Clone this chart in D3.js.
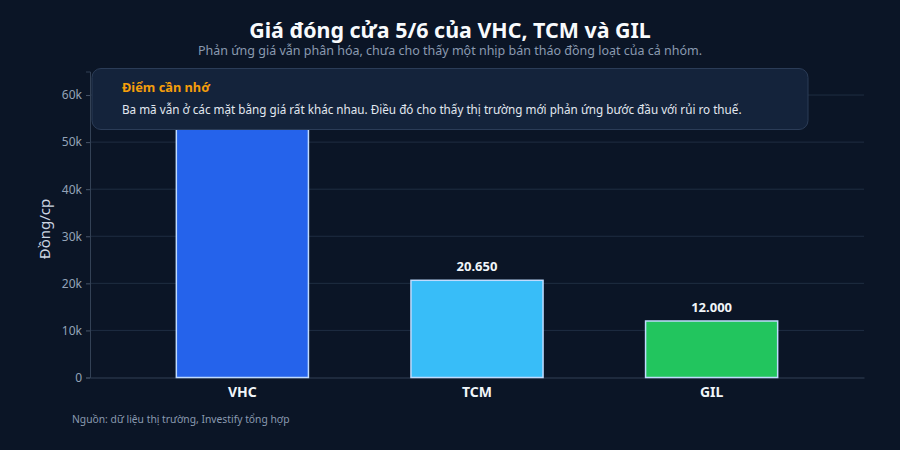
<!DOCTYPE html>
<html><head><meta charset="utf-8">
<script src="https://cdn.jsdelivr.net/npm/d3@7"></script>
<style>
html,body{margin:0;padding:0;background:#0b1526;}
svg{display:block;font-family:"Noto Sans","Open Sans",sans-serif;}
</style></head>
<body>
<svg id="chart" width="900" height="450"></svg>
<script>
const categories = ["VHC", "TCM", "GIL"];
const values = [57000, 20650, 12000];
const colors = ["#2563eb", "#38bdf8", "#22c55e"];
const yTicks = [0, 10000, 20000, 30000, 40000, 50000, 60000];
const yTickLabels = ["0", "10k", "20k", "30k", "40k", "50k", "60k"];
const title = "Giá đóng cửa 5/6 của VHC, TCM và GIL";
const subtitle = "Phản ứng giá vẫn phân hóa, chưa cho thấy một nhịp bán tháo đồng loạt của cả nhóm.";
const noteTitle = "Điểm cần nhớ";
const noteText = "Ba mã vẫn ở các mặt bằng giá rất khác nhau. Điều đó cho thấy thị trường mới phản ứng bước đầu với rủi ro thuế.";
const yLabel = "Đồng/cp";
const source = "Nguồn: dữ liệu thị trường, Investify tổng hợp";

const svg = d3.select("#chart");
const W = 900, H = 450;
const m = {left: 90, right: 36, top: 71.5, bottom: 72.5};
const note = {x: 92, y: 68.5, w: 716, h: 61};

svg.append("rect").attr("width", W).attr("height", H).attr("fill", "#0b1526");

const x = d3.scaleBand().domain(categories).range([m.left, W - m.right])
  .paddingInner(0.437).paddingOuter(0.368);
const y = d3.scaleLinear().domain([0, 65000]).range([H - m.bottom, m.top]);

// grid
svg.append("g").selectAll("line").data(yTicks.slice(1)).join("line")
  .attr("x1", m.left).attr("x2", W - m.right)
  .attr("y1", d => y(d)).attr("y2", d => y(d))
  .attr("stroke", "#1f2d42").attr("stroke-width", 1);

// y axis
const yAxis = d3.axisLeft(y).tickValues(yTicks).tickFormat((d, i) => yTickLabels[i]).tickSize(4).tickPadding(4);
const gy = svg.append("g").attr("transform", `translate(${m.left},0)`).call(yAxis);
gy.select(".domain").attr("stroke", "#334155");
gy.selectAll(".tick line").attr("stroke", "#475569");
gy.selectAll(".tick text").attr("fill", "#94a3b8").attr("font-size", 12)
  .attr("font-family", "Noto Sans, sans-serif");

// x axis baseline
const xAxis = d3.axisBottom(x).tickSize(0).tickPadding(10);
const gx = svg.append("g").attr("transform", `translate(0,${y(0)})`).call(xAxis);
gx.select(".domain").attr("stroke", "#334155");
gx.selectAll(".tick text").attr("fill", "#f1f5f9").attr("font-size", 14)
  .attr("font-weight", "bold").attr("font-family", "Noto Sans, sans-serif");

// bars
svg.append("g").selectAll("rect").data(categories).join("rect")
  .attr("x", d => x(d)).attr("width", x.bandwidth())
  .attr("y", (d, i) => y(values[i])).attr("height", (d, i) => y(0) - y(values[i]))
  .attr("fill", (d, i) => colors[i])
  .attr("stroke", "#bfdbfe").attr("stroke-width", 1.5);

// value labels (those hidden under the callout panel are not drawn, as in the reference)
const fmt = v => d3.format(",")(v).replace(/,/g, ".");
const labelData = categories.map((c, i) => ({c, v: values[i]}))
  .filter(d => y(d.v) - 9 > note.y + note.h + 14);
svg.append("g").selectAll("text").data(labelData).join("text")
  .attr("x", d => x(d.c) + x.bandwidth() / 2)
  .attr("y", d => y(d.v) - 9)
  .attr("text-anchor", "middle").attr("fill", "#f1f5f9")
  .attr("font-size", 13).attr("font-weight", "bold")
  .text(d => fmt(d.v));

// y label
svg.append("text").attr("transform", `translate(50,229) rotate(-90)`)
  .attr("text-anchor", "middle").attr("fill", "#cbd5e1").attr("font-size", 15).text(yLabel);

// title & subtitle
svg.append("text").attr("x", W / 2).attr("y", 37.5).attr("text-anchor", "middle")
  .attr("fill", "#f8fafc").attr("font-size", 21.4).attr("font-weight", "bold").text(title);
svg.append("text").attr("x", W / 2).attr("y", 54.5).attr("text-anchor", "middle")
  .attr("fill", "#8a9ab0").attr("font-size", 12.5).text(subtitle);

// callout
svg.append("rect").attr("x", note.x).attr("y", note.y).attr("width", note.w).attr("height", note.h)
  .attr("rx", 9).attr("fill", "#14233b").attr("stroke", "#2b3c57").attr("stroke-width", 1);
svg.append("text").attr("x", 122).attr("y", 92).attr("fill", "#f59e0b")
  .attr("font-size", 12.8).attr("font-weight", "bold").text(noteTitle);
svg.append("text").attr("x", 122).attr("y", 114).attr("fill", "#e2e8f0")
  .attr("font-size", 11.7).text(noteText);

// source
svg.append("text").attr("x", 72).attr("y", 423).attr("fill", "#8a9ab0")
  .attr("font-size", 10.3).text(source);
</script>
</body></html>
